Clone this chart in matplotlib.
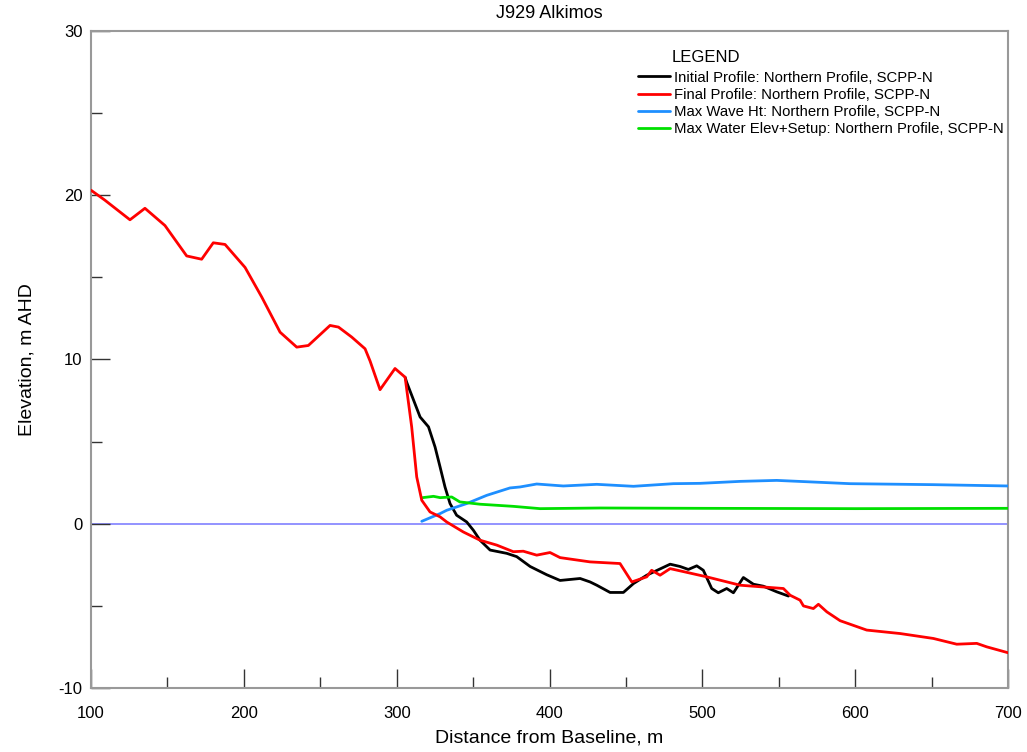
import matplotlib
matplotlib.use("Agg")
import matplotlib.pyplot as plt
from matplotlib.ticker import MultipleLocator

plt.rcParams['font.family'] = ['Liberation Sans', 'DejaVu Sans']
plt.rcParams['axes.unicode_minus'] = False

# Final profile (red)
final_x = [100, 109, 125.5, 135.3, 148.4, 162.6, 172.4, 180, 187.7, 200.8, 211.7,
           223.7, 234.6, 242.2, 256.4, 261.9, 270.6, 279.3, 282.6, 289.1, 298.9,
           305.5, 309.8, 313.1, 316.4, 321.8, 328.4, 332.7, 343.6, 354.5, 365.5,
           376.3, 382.8, 391.6, 400.3, 406.9, 426.5, 446.1, 453.8, 463.6, 466.8,
           472.3, 478.9, 502.8, 524.7, 553, 557.4, 563.9, 566.1, 572.6, 575.9,
           581.4, 590.1, 607.5, 629.3, 651.1, 666.4, 679.5, 686, 700]
final_y = [20.3, 19.7, 18.5, 19.2, 18.15, 16.3, 16.1, 17.1, 17.0, 15.6, 13.8,
           11.66, 10.75, 10.85, 12.07, 11.97, 11.36, 10.65, 9.9, 8.16, 9.45,
           8.92, 5.9, 2.85, 1.43, 0.72, 0.42, 0.11, -0.5, -1.0, -1.3,
           -1.7, -1.67, -1.91, -1.75, -2.06, -2.32, -2.42, -3.54, -3.23, -2.83,
           -3.13, -2.73, -3.23, -3.74, -3.94, -4.35, -4.65, -5.0, -5.16, -4.9,
           -5.36, -5.9, -6.47, -6.68, -6.98, -7.33, -7.28, -7.49, -7.85]

# Initial profile (black)
init_x = [305.5, 306.5, 315.3, 320.8, 325.1, 328.4, 331.6, 334.9, 339.2, 345.8,
          350.2, 354.5, 361.1, 372, 378.5, 387.3, 398.1, 406.9, 420, 426.5,
          430.9, 439.6, 448.3, 454.9, 463.6, 478.9, 485.4, 490.8, 496.3, 500.6,
          506.1, 510.4, 515.9, 520.3, 526.8, 533.4, 539.9, 548.6, 556.3]
init_y = [8.92, 8.62, 6.5, 5.9, 4.67, 3.45, 2.24, 1.23, 0.52, 0.11,
          -0.4, -1.0, -1.6, -1.8, -2.0, -2.6, -3.1, -3.45, -3.33, -3.54,
          -3.74, -4.18, -4.18, -3.64, -3.13, -2.46, -2.6, -2.78, -2.56, -2.83,
          -3.94, -4.2, -3.94, -4.2, -3.27, -3.68, -3.8, -4.14, -4.4]

# Max wave height (blue)
wave_x = [316.4, 328.4, 332.7, 345.8, 358.9, 374.1, 380.7, 391.6, 409, 430.9,
          454.9, 481, 498.5, 524.7, 548.6, 596.6, 651.1, 700]
wave_y = [0.15, 0.62, 0.82, 1.23, 1.73, 2.18, 2.24, 2.42, 2.3, 2.4,
          2.28, 2.44, 2.46, 2.58, 2.64, 2.44, 2.38, 2.3]

# Max water elevation + setup (green)
water_x = [317, 324.1, 328.4, 336, 341.3, 354.5, 376.3, 393.8, 433, 500, 600, 700]
water_y = [1.59, 1.67, 1.59, 1.63, 1.33, 1.19, 1.06, 0.92, 0.96, 0.94, 0.92, 0.94]

fig = plt.figure(figsize=(10.27, 7.52), dpi=100)
ax = fig.add_axes([0.0886, 0.085, 0.893, 0.874])

ax.axhline(0, color='#8080ff', lw=1.2, zorder=1)
kw = dict(lw=2, solid_joinstyle='round', solid_capstyle='round')
ax.plot(init_x, init_y, color='black', label='Initial Profile: Northern Profile, SCPP-N', zorder=3, **kw)
ax.plot(final_x, final_y, color='#ff0000', label='Final Profile: Northern Profile, SCPP-N', zorder=4, **kw)
ax.plot(wave_x, wave_y, color='#1e8fff', label='Max Wave Ht: Northern Profile, SCPP-N', zorder=3, **kw)
ax.plot(water_x, water_y, color='#00e000', label='Max Water Elev+Setup: Northern Profile, SCPP-N', zorder=3, **kw)

ax.set_xlim(100, 700)
ax.set_ylim(-10, 30)
ax.xaxis.set_major_locator(MultipleLocator(100))
ax.xaxis.set_minor_locator(MultipleLocator(50))
ax.yaxis.set_major_locator(MultipleLocator(10))
ax.yaxis.set_minor_locator(MultipleLocator(5))
ax.tick_params(which='both', direction='in', top=False, right=False,
               color='#333333', labelsize=12)
ax.tick_params(which='major', length=14, width=1)
ax.tick_params(which='minor', length=8, width=1)
ax.tick_params(axis='x', which='both', pad=13)
ax.tick_params(axis='y', which='both', pad=6)
for s in ax.spines.values():
    s.set_color('#999999')
    s.set_linewidth(1.5)

ax.set_title('J929 Alkimos', fontsize=13, pad=9)
ax.set_xlabel('Distance from Baseline, m', fontsize=14, labelpad=6)
ax.set_ylabel('Elevation, m AHD', fontsize=14, labelpad=17)

ax.text(0.6336, 0.959, 'LEGEND', transform=ax.transAxes, fontsize=12,
        ha='left', va='center')
ax.legend(loc='upper left', bbox_to_anchor=(0.5965, 0.9395), frameon=False,
          fontsize=10.7, handlelength=2.15, handletextpad=0.27,
          labelspacing=0.22, borderpad=0, borderaxespad=0)

fig.savefig('out.png', dpi=100)
